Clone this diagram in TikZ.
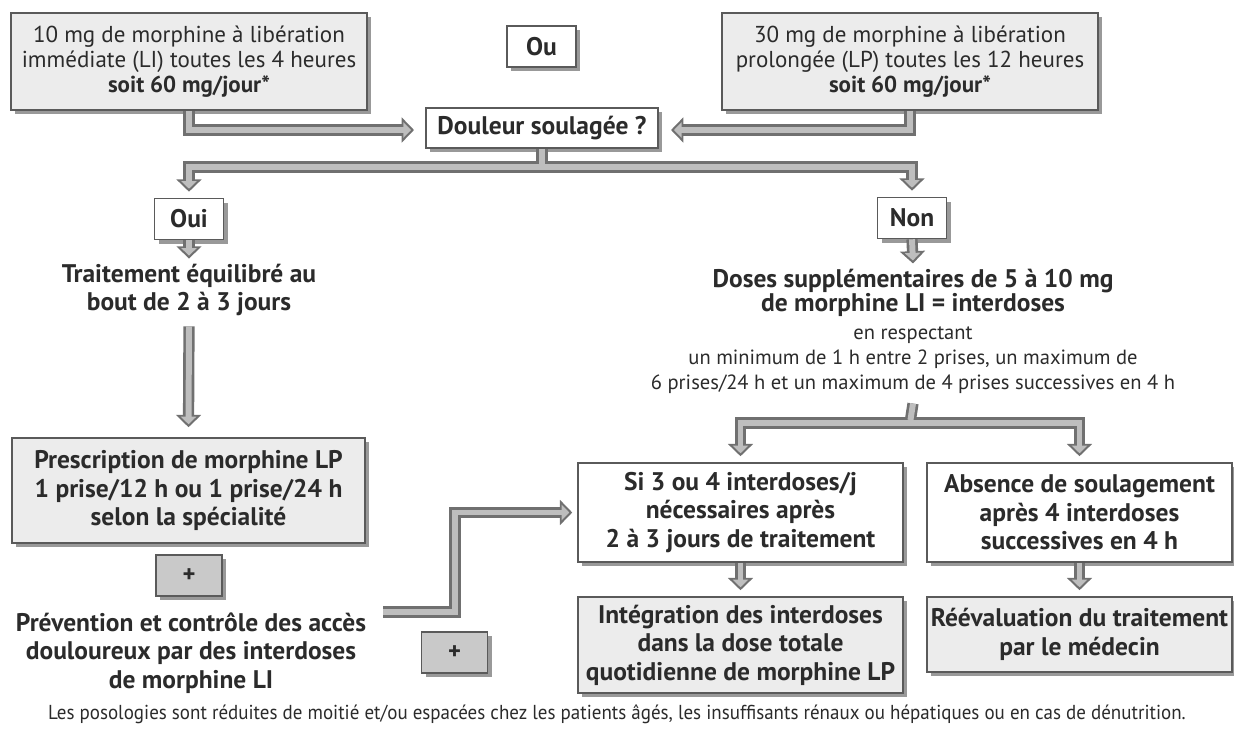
\documentclass[tikz,border=0pt]{standalone}
\usepackage{fontspec}
\setmainfont{PT Sans}
\newfontfamily\notefont[FakeStretch=0.94]{PT Sans}
\usetikzlibrary{arrows.meta,positioning,shadows}

\definecolor{inkgrey}{HTML}{2B2B2B}
\definecolor{edgegrey}{HTML}{5A5A5A}
\definecolor{boxgrey}{HTML}{ECECEC}
\definecolor{plusgrey}{HTML}{C9C9C9}
\definecolor{shadegrey}{HTML}{999999}
\definecolor{flowedge}{HTML}{707070}
\definecolor{flowfill}{HTML}{BEBEBE}

\tikzset{
  box/.style={draw=edgegrey, line width=0.9pt, fill=white, text=inkgrey, align=center, inner sep=2pt,
    drop shadow={shadow xshift=2.3pt, shadow yshift=-2.3pt, fill=shadegrey, opacity=1}},
  greybox/.style={box, fill=boxgrey},
  plusbox/.style={box, fill=plusgrey, font=\bfseries\fontsize{14}{15}\selectfont, minimum width=1.32cm, minimum height=0.82cm},
  tagbox/.style={box, font=\bfseries\fontsize{14.5}{16}\selectfont, minimum width=1.38cm, minimum height=0.82cm},
  plain/.style={font=\fontsize{13.1}{14.4}\selectfont},
  heavy/.style={font=\bfseries\fontsize{14.5}{16.2}\selectfont},
  txt/.style={text=inkgrey, align=center, inner sep=0pt},
  flowout/.style={draw=flowedge, line width=6.4pt, -{Triangle[length=7pt,width=14pt]}},
  flowin/.style={draw=flowfill, line width=3.4pt, shorten >=1.7pt, -{Triangle[length=4.3pt,width=8.6pt]}}
}

% all hollow arrows, drawn once per layer
\newcommand\flowpaths[1]{%
  \draw[#1] (li.south) |- (qin);
  \draw[#1] (lp.south) |- (qout);
  \draw[#1,-] (q.south) -- (qfork);
  \draw[#1] (qfork) -| ([yshift=0.12cm]oui.north);
  \draw[#1] (qfork) -| ([yshift=0.12cm]non.north);
  \draw[#1] (oui.south) -- ([yshift=0.1cm]eq.north);
  \draw[#1] ([yshift=-0.2cm]eq.south) -- ([yshift=0.2cm]presc.north);
  \draw[#1] (non.south) -- ([yshift=0.1cm]doses.north);
  \draw[#1,-] ([yshift=-0.2cm]doses.south) -- (dfork);
  \draw[#1] (dfork) -| ([yshift=0.12cm]si.north);
  \draw[#1] (dfork) -| ([yshift=0.12cm]abs.north);
  \draw[#1] (si.south) -- ([yshift=0.12cm]integ.north);
  \draw[#1] (abs.south) -- ([yshift=0.12cm]reev.north);
  \draw[#1] (stair) -- ++(72,0) |- ([xshift=-0.1cm]si.west);
}

\begin{document}
\begin{tikzpicture}[x=0.02cm, y=-0.02cm]
  \useasboundingbox (0,0) rectangle (1234,731);

  % starting doses
  \node[greybox, plain, minimum width=7.12cm, minimum height=1.94cm] (li) at (189,61.5)
    {10 mg de morphine à libération\\immédiate (LI) toutes les 4 heures\\\textbf{soit 60 mg/jour*}};
  \node[tagbox] (ou) at (541.5,46.5) {Ou};
  \node[greybox, plain, minimum width=7.52cm, minimum height=1.94cm] (lp) at (910,61.5)
    {30 mg de morphine à libération\\prolongée (LP) toutes les 12 heures\\\textbf{soit 60 mg/jour*}};
  \node[box, heavy, minimum width=4.64cm, minimum height=0.8cm] (q) at (542,128) {Douleur soulagée ?};

  % answers
  \node[tagbox] (oui) at (189,219) {Oui};
  \node[tagbox] (non) at (912,218) {Non};

  % left branch
  \node[txt, heavy] (eq) at (189,290) {Traitement équilibré au\\bout de 2 à 3 jours};
  \node[greybox, heavy, minimum width=7.06cm, minimum height=2.1cm] (presc) at (188.5,490.5)
    {Prescription de morphine LP\\1 prise/12 h ou 1 prise/24 h\\selon la spécialité};
  \node[plusbox] (plus1) at (189,575.5) {+};
  \node[txt, heavy] (prev) at (191,653)
    {Prévention et contrôle des accès\\douloureux par des interdoses\\de morphine LI};
  \node[plusbox] (plus2) at (454.5,652.5) {+};

  % right branch
  \node[txt, font=\fontsize{11.7}{14}\selectfont] (doses) at (913,331)
    {\textbf{\fontsize{14.5}{15}\selectfont Doses supplémentaires de 5 à 10 mg}\\
     \textbf{\fontsize{14.5}{15}\selectfont de morphine LI = interdoses}\\[2pt]
     en respectant\\
     un minimum de 1 h entre 2 prises, un maximum de\\
     6 prises/24 h et un maximum de 4 prises successives en 4 h};
  \node[box, heavy, minimum width=6.5cm, minimum height=1.98cm] (si) at (740.5,512.5)
    {Si 3 ou 4 interdoses/j\\nécessaires après\\2 à 3 jours de traitement};
  \node[box, heavy, minimum width=6.1cm, minimum height=1.98cm] (abs) at (1079.5,512.5)
    {Absence de soulagement\\après 4 interdoses\\successives en 4 h};
  \node[greybox, heavy, minimum width=6.5cm, minimum height=1.92cm] (integ) at (740.5,645)
    {Intégration des interdoses\\dans la dose totale\\quotidienne de morphine LP};
  \node[greybox, heavy, minimum width=6.1cm, minimum height=1.5cm] (reev) at (1079.5,634.5)
    {Réévaluation du traitement\\par le médecin};

  % footnote
  \node[txt, font=\notefont\fontsize{11.5}{13}\selectfont] (note) at (617,714)
    {Les posologies sont réduites de moitié et/ou espacées chez les patients âgés, les insuffisants rénaux ou hépatiques ou en cas de dénutrition.};

  % arrow ends
  \coordinate (qin) at (414,130);
  \coordinate (qout) at (671,130);
  \coordinate (qfork) at (542,167);
  \coordinate (dfork) at (910,423);
  \coordinate (stair) at (383,612);

  \flowpaths{flowout}
  \flowpaths{flowin}
\end{tikzpicture}
\end{document}
